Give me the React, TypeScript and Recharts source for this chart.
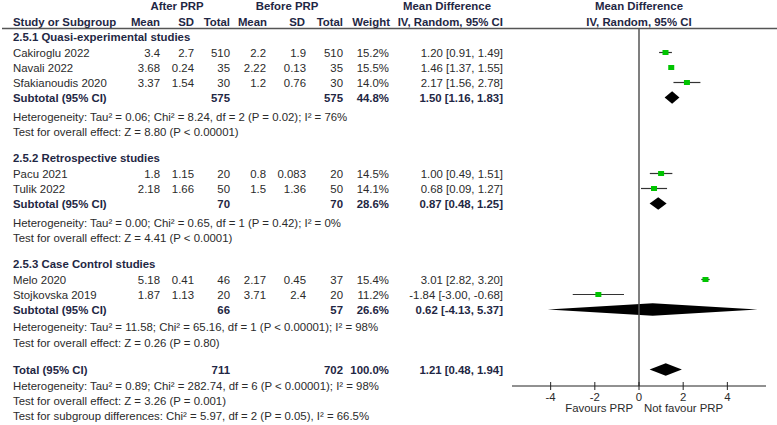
import React from 'react';
import { ComposedChart, XAxis, YAxis, Scatter, ReferenceLine, ReferenceArea } from 'recharts';

// ---------------- data ----------------
const groupTitles = ['2.5.1 Quasi-experimental studies', '2.5.2 Retrospective studies', '2.5.3 Case Control studies'];

const studyNames = ['Cakiroglu 2022', 'Navali 2022', 'Sfakianoudis 2020', 'Pacu 2021', 'Tulik 2022', 'Melo 2020', 'Stojkovska 2019'];
const studyGroup = [0, 0, 0, 1, 1, 2, 2];
const afterMean = ['3.4', '3.68', '3.37', '1.8', '2.18', '5.18', '1.87'];
const afterSD = ['2.7', '0.24', '1.54', '1.15', '1.66', '0.41', '1.13'];
const afterTotal = [510, 35, 30, 20, 50, 46, 20];
const beforeMean = ['2.2', '2.22', '1.2', '0.8', '1.5', '2.17', '3.71'];
const beforeSD = ['1.9', '0.13', '0.76', '0.083', '1.36', '0.45', '2.4'];
const beforeTotal = [510, 35, 30, 20, 50, 37, 20];
const studyWeight = ['15.2%', '15.5%', '14.0%', '14.5%', '14.1%', '15.4%', '11.2%'];
const studyMD = [1.2, 1.46, 2.17, 1.0, 0.68, 3.01, -1.84];
const studyLow = [0.91, 1.37, 1.56, 0.49, 0.09, 2.82, -3.0];
const studyHigh = [1.49, 1.55, 2.78, 1.51, 1.27, 3.2, -0.68];

const subtotalAfter = [575, 70, 66];
const subtotalBefore = [575, 70, 57];
const subtotalWeight = ['44.8%', '28.6%', '26.6%'];
const subtotalMD = [1.5, 0.87, 0.62];
const subtotalLow = [1.16, 0.48, -4.13];
const subtotalHigh = [1.83, 1.25, 5.37];
const subtotalHet = [
  'Heterogeneity: Tau² = 0.06; Chi² = 8.24, df = 2 (P = 0.02); I² = 76%',
  'Heterogeneity: Tau² = 0.00; Chi² = 0.65, df = 1 (P = 0.42); I² = 0%',
  'Heterogeneity: Tau² = 11.58; Chi² = 65.16, df = 1 (P < 0.00001); I² = 98%',
];
const subtotalTest = [
  'Test for overall effect: Z = 8.80 (P < 0.00001)',
  'Test for overall effect: Z = 4.41 (P < 0.0001)',
  'Test for overall effect: Z = 0.26 (P = 0.80)',
];

const totalAfter = 711;
const totalBefore = 702;
const totalWeight = '100.0%';
const totalMD = 1.21;
const totalLow = 0.48;
const totalHigh = 1.94;
const totalHet = 'Heterogeneity: Tau² = 0.89; Chi² = 282.74, df = 6 (P < 0.00001); I² = 98%';
const totalTest = 'Test for overall effect: Z = 3.26 (P = 0.001)';
const subgroupTest = 'Test for subgroup differences: Chi² = 5.97, df = 2 (P = 0.05), I² = 66.5%';

const xTicks = [-4, -2, 0, 2, 4];
const leftLabel = 'Favours PRP';
const rightLabel = 'Not favour PRP';

// ---------------- layout ----------------
const W = 777;
const H = 425;
const PLOT_LEFT = 512;
const PLOT_RIGHT = 766;
const PLOT_TOP = 28;
const PLOT_BOTTOM = 386;
const ROW_PX = 15;
const Y_MAX = (PLOT_BOTTOM - PLOT_TOP) / ROW_PX;
const X_DOMAIN: [number, number] = [-5.75, 5.75];
const ZERO_X = PLOT_LEFT + ((0 - X_DOMAIN[0]) / (X_DOMAIN[1] - X_DOMAIN[0])) * (PLOT_RIGHT - PLOT_LEFT);

const FIRST_ROW = 36.5;
const GAP_TITLE = 16;
const GAP_ROW = 15;
const GAP_HET = [19, 19, 17];
const GAP_TEST = [15, 15, 16];
const GAP_GROUP = 26;
const GAP_TOTAL = 27;
const GAP_FOOT = [16, 15, 15];

const COL_NAME = 13;
const COL_AM = 160;
const COL_ASD = 194;
const COL_AT = 230;
const COL_BM = 266;
const COL_BSD = 306;
const COL_BT = 343;
const COL_W = 389;
const COL_CI = 503;

const FONT = '"Liberation Sans", Arial, Helvetica, sans-serif';
const FS = 11.4;
const TXT = '#2b2b2b';
const BOLD = '#1f2744';
const GREEN = '#00c400';
const DIAMOND_HALF = 6.3 / ROW_PX;

type Row = { kind: string; y: number; idx: number };

function buildRows(): Row[] {
  const rows: Row[] = [];
  let y = FIRST_ROW;
  groupTitles.forEach((_, g) => {
    rows.push({ kind: 'group', y, idx: g });
    y += GAP_TITLE;
    studyNames.forEach((__, i) => {
      if (studyGroup[i] === g) {
        rows.push({ kind: 'study', y, idx: i });
        y += GAP_ROW;
      }
    });
    rows.push({ kind: 'subtotal', y, idx: g });
    y += GAP_HET[g];
    rows.push({ kind: 'het', y, idx: g });
    y += GAP_TEST[g];
    rows.push({ kind: 'test', y, idx: g });
    y += g < groupTitles.length - 1 ? GAP_GROUP : GAP_TOTAL;
  });
  rows.push({ kind: 'total', y, idx: 0 });
  y += GAP_FOOT[0];
  rows.push({ kind: 'totalHet', y, idx: 0 });
  y += GAP_FOOT[1];
  rows.push({ kind: 'totalTest', y, idx: 0 });
  y += GAP_FOOT[2];
  rows.push({ kind: 'subgroupTest', y, idx: 0 });
  return rows;
}

const rows = buildRows();
const toUnit = (py: number) => (py - PLOT_TOP) / ROW_PX;
const fmtCI = (m: number, l: number, h: number) => `${m.toFixed(2)} [${l.toFixed(2)}, ${h.toFixed(2)}]`;

const studyPoints = rows
  .filter((r) => r.kind === 'study')
  .map((r) => ({ x: studyMD[r.idx], y: toUnit(r.y), lo: studyLow[r.idx], hi: studyHigh[r.idx] }));

const diamonds = [
  ...rows
    .filter((r) => r.kind === 'subtotal')
    .map((r) => ({ md: subtotalMD[r.idx], lo: subtotalLow[r.idx], hi: subtotalHigh[r.idx], y: toUnit(r.y) })),
  ...rows.filter((r) => r.kind === 'total').map((r) => ({ md: totalMD, lo: totalLow, hi: totalHigh, y: toUnit(r.y) })),
];

// ---------------- helpers ----------------
const T = ({ x, y, anchor = 'start', bold = false, color, children }: any) => (
  <text
    x={x}
    y={y + 4}
    textAnchor={anchor}
    fontFamily={FONT}
    fontSize={FS}
    fontWeight={bold ? 'bold' : 'normal'}
    fill={color || (bold ? BOLD : TXT)}
  >
    {children}
  </text>
);

const makeDiamond = (md: number, lo: number, hi: number) => (p: any) => {
  const x = Math.min(p.x, p.x + p.width);
  const y = Math.min(p.y, p.y + p.height);
  const w = Math.abs(p.width);
  const h = Math.abs(p.height);
  const mx = x + (w * (md - lo)) / (hi - lo);
  const pts = `${x},${y + h / 2} ${mx},${y} ${x + w},${y + h / 2} ${mx},${y + h}`;
  return <polygon points={pts} fill="#000" />;
};

const SquareShape = (p: any) => <rect x={p.cx - 3} y={p.cy - 2.5} width={6} height={5} fill={GREEN} />;

const AxisTick = (p: any) => (
  <g>
    <line x1={p.x} x2={p.x} y1={p.y - 4} y2={p.y + 4} stroke="#222" strokeWidth={1} />
    <text x={p.x} y={p.y + 15} textAnchor="middle" fontFamily={FONT} fontSize={FS} fill={TXT}>
      {p.payload.value}
    </text>
  </g>
);

function TableText() {
  const out: React.ReactNode[] = [];
  rows.forEach((r, k) => {
    const y = r.y;
    if (r.kind === 'group') {
      out.push(<T key={k} x={COL_NAME} y={y} bold>{groupTitles[r.idx]}</T>);
    } else if (r.kind === 'study') {
      const i = r.idx;
      out.push(
        <g key={k}>
          <T x={COL_NAME} y={y}>{studyNames[i]}</T>
          <T x={COL_AM} y={y} anchor="end">{afterMean[i]}</T>
          <T x={COL_ASD} y={y} anchor="end">{afterSD[i]}</T>
          <T x={COL_AT} y={y} anchor="end">{afterTotal[i]}</T>
          <T x={COL_BM} y={y} anchor="end">{beforeMean[i]}</T>
          <T x={COL_BSD} y={y} anchor="end">{beforeSD[i]}</T>
          <T x={COL_BT} y={y} anchor="end">{beforeTotal[i]}</T>
          <T x={COL_W} y={y} anchor="end">{studyWeight[i]}</T>
          <T x={COL_CI} y={y} anchor="end">{fmtCI(studyMD[i], studyLow[i], studyHigh[i])}</T>
        </g>
      );
    } else if (r.kind === 'subtotal') {
      const g = r.idx;
      out.push(
        <g key={k}>
          <T x={COL_NAME} y={y} bold>Subtotal (95% CI)</T>
          <T x={COL_AT} y={y} anchor="end" bold>{subtotalAfter[g]}</T>
          <T x={COL_BT} y={y} anchor="end" bold>{subtotalBefore[g]}</T>
          <T x={COL_W} y={y} anchor="end" bold>{subtotalWeight[g]}</T>
          <T x={COL_CI} y={y} anchor="end" bold>{fmtCI(subtotalMD[g], subtotalLow[g], subtotalHigh[g])}</T>
        </g>
      );
    } else if (r.kind === 'het') {
      out.push(<T key={k} x={COL_NAME} y={y}>{subtotalHet[r.idx]}</T>);
    } else if (r.kind === 'test') {
      out.push(<T key={k} x={COL_NAME} y={y}>{subtotalTest[r.idx]}</T>);
    } else if (r.kind === 'total') {
      out.push(
        <g key={k}>
          <T x={COL_NAME} y={y} bold>Total (95% CI)</T>
          <T x={COL_AT} y={y} anchor="end" bold>{totalAfter}</T>
          <T x={COL_BT} y={y} anchor="end" bold>{totalBefore}</T>
          <T x={COL_W} y={y} anchor="end" bold>{totalWeight}</T>
          <T x={COL_CI} y={y} anchor="end" bold>{fmtCI(totalMD, totalLow, totalHigh)}</T>
        </g>
      );
    } else if (r.kind === 'totalHet') {
      out.push(<T key={k} x={COL_NAME} y={y}>{totalHet}</T>);
    } else if (r.kind === 'totalTest') {
      out.push(<T key={k} x={COL_NAME} y={y}>{totalTest}</T>);
    } else if (r.kind === 'subgroupTest') {
      out.push(<T key={k} x={COL_NAME} y={y}>{subgroupTest}</T>);
    }
  });
  return <>{out}</>;
}

export default function App() {
  const h1 = 6.3;
  const h2 = 21.7;
  return (
    <div style={{ position: 'absolute', left: 0, top: 0, width: W, height: H, background: '#fff' }}>
      <ComposedChart
        width={W}
        height={H}
        margin={{ top: PLOT_TOP, right: W - PLOT_RIGHT, bottom: 0, left: PLOT_LEFT }}
      >
        <XAxis
          type="number"
          dataKey="x"
          domain={X_DOMAIN}
          ticks={xTicks}
          allowDataOverflow
          height={H - PLOT_BOTTOM}
          tickSize={0}
          tickMargin={0}
          tickLine={false}
          axisLine={{ stroke: '#222', strokeWidth: 1 }}
          tick={AxisTick}
          interval={0}
        />
        <YAxis type="number" dataKey="y" domain={[0, Y_MAX]} reversed hide allowDataOverflow />
        <ReferenceLine x={0} stroke="#555" strokeWidth={1.5} ifOverflow="visible" />
        {studyPoints.map((p, i) => (
          <ReferenceLine
            key={'ci' + i}
            segment={[
              { x: p.lo, y: p.y },
              { x: p.hi, y: p.y },
            ]}
            stroke="#333"
            strokeWidth={1.2}
            ifOverflow="visible"
          />
        ))}
        {diamonds.map((d, i) => (
          <ReferenceArea
            key={'dm' + i}
            x1={d.lo}
            x2={d.hi}
            y1={d.y - DIAMOND_HALF}
            y2={d.y + DIAMOND_HALF}
            ifOverflow="visible"
            shape={makeDiamond(d.md, d.lo, d.hi)}
          />
        ))}
        <Scatter data={studyPoints} dataKey="y" isAnimationActive={false} shape={SquareShape} />
      </ComposedChart>
      <svg width={W} height={H} style={{ position: 'absolute', left: 0, top: 0, pointerEvents: 'none' }}>
        <T x={177} y={h1} anchor="middle" bold>After PRP</T>
        <T x={287} y={h1} anchor="middle" bold>Before PRP</T>
        <T x={447} y={h1} anchor="middle" bold>Mean Difference</T>
        <T x={ZERO_X} y={h1} anchor="middle" bold>Mean Difference</T>
        <T x={COL_NAME} y={h2} bold>Study or Subgroup</T>
        <T x={COL_AM} y={h2} anchor="end" bold>Mean</T>
        <T x={COL_ASD} y={h2} anchor="end" bold>SD</T>
        <T x={COL_AT} y={h2} anchor="end" bold>Total</T>
        <T x={COL_BM + 1} y={h2} anchor="end" bold>Mean</T>
        <T x={COL_BSD - 1} y={h2} anchor="end" bold>SD</T>
        <T x={COL_BT} y={h2} anchor="end" bold>Total</T>
        <T x={COL_W + 1} y={h2} anchor="end" bold>Weight</T>
        <T x={COL_CI} y={h2} anchor="end" bold>IV, Random, 95% CI</T>
        <T x={ZERO_X} y={h2} anchor="middle" bold>IV, Random, 95% CI</T>
        <line x1={2} x2={W} y1={PLOT_TOP + 0.5} y2={PLOT_TOP + 0.5} stroke="#555" strokeWidth={1.3} />
        <TableText />
        <T x={ZERO_X - 6} y={408.3} anchor="end">{leftLabel}</T>
        <T x={ZERO_X + 5} y={408.3}>{rightLabel}</T>
      </svg>
    </div>
  );
}
